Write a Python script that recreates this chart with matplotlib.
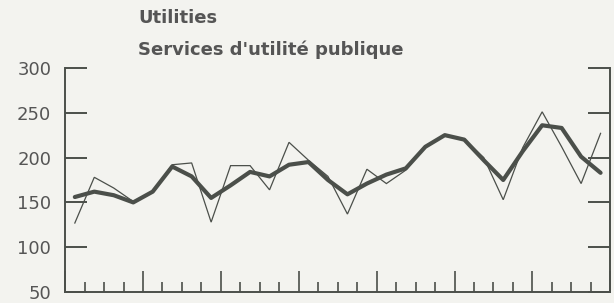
import matplotlib
matplotlib.use("Agg")
import matplotlib.pyplot as plt
from matplotlib.ticker import MultipleLocator

# quarterly values, 7 years
actual = [127, 178, 166, 151, 162, 192, 194, 128, 191, 191, 164, 217, 197, 179,
          137, 187, 171, 186, 213, 225, 220, 200, 153, 211, 251, 212, 171, 227]
trend = [156, 162, 158, 150, 162, 190, 179, 155, 169, 184, 179, 192, 195, 175,
         159, 171, 181, 188, 212, 225, 220, 197, 175, 207, 236, 233, 201, 183]
yticks = [50, 100, 150, 200, 250, 300]

bg = "#f3f3ef"
ink = "#4b4f4a"
txt = "#555555"

plt.rcParams['font.family'] = ['DejaVu Sans']

fig = plt.figure(figsize=(6.14, 3.03), dpi=100, facecolor=bg)
ax = fig.add_axes([0.106, 0.036, 0.888, 0.740], facecolor=bg)

x = [i + 0.5 for i in range(len(actual))]
ax.plot(x, actual, color=ink, lw=0.9, solid_joinstyle='miter')
ax.plot(x, trend, color=ink, lw=3.0, solid_capstyle='round', solid_joinstyle='round')

ax.set_xlim(0, len(actual))
ax.set_ylim(50, 300)
ax.set_yticks(yticks)
ax.xaxis.set_major_locator(MultipleLocator(4))
ax.xaxis.set_minor_locator(MultipleLocator(1))
ax.set_xticklabels([])

ax.spines['top'].set_visible(False)
for s in ['left', 'right', 'bottom']:
    ax.spines[s].set_color(ink)
    ax.spines[s].set_linewidth(1.4)

ax.tick_params(axis='y', direction='in', length=16, width=1.4, color=ink,
               right=True, labelright=False, labelsize=13, labelcolor=txt, pad=10)
ax.tick_params(axis='x', which='major', direction='in', length=15, width=1.2, color=ink)
ax.tick_params(axis='x', which='minor', direction='in', length=7, width=1.2, color=ink)

fig.text(0.225, 0.94, "Utilities", fontsize=13, fontweight='bold', color=txt, va='center')
fig.text(0.225, 0.835, "Services d'utilité publique", fontsize=13, fontweight='bold',
         color=txt, va='center')

fig.savefig("out.png", dpi=100, facecolor=bg)
